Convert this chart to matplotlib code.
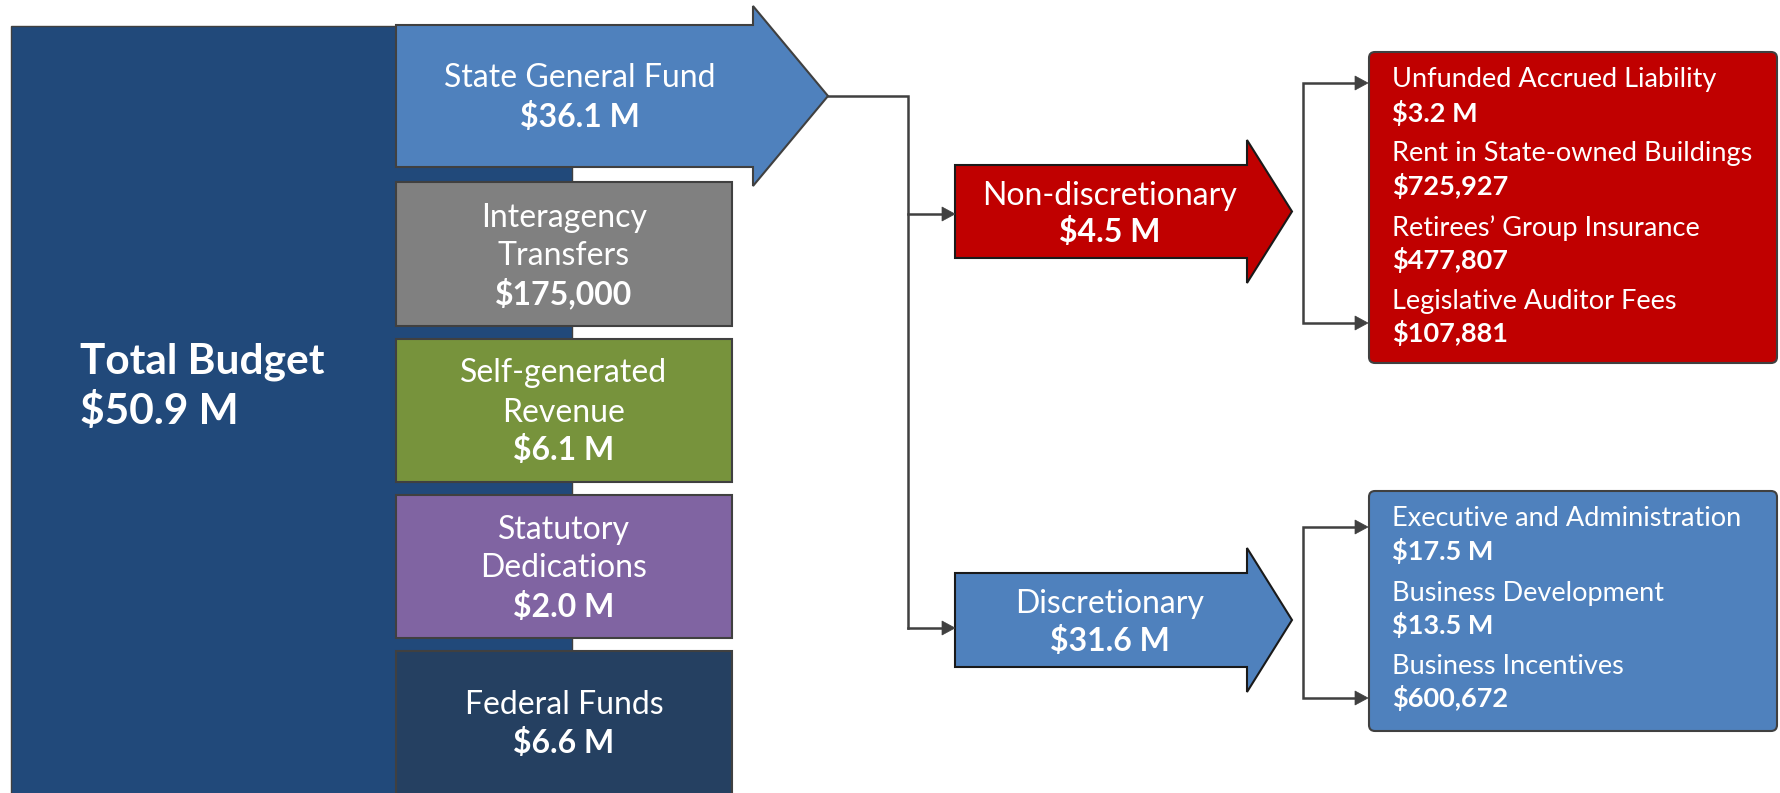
import matplotlib
matplotlib.use("Agg")
import matplotlib.pyplot as plt
from matplotlib.patches import Polygon, Rectangle, FancyBboxPatch

plt.rcParams['font.family'] = ['Lato', 'DejaVu Sans']

# ---- data ----
total_label = "Total Budget"
total_value = "$50.9 M"
sources = ["State General Fund", "Interagency\nTransfers", "Self-generated\nRevenue",
           "Statutory\nDedications", "Federal Funds"]
source_values = ["$36.1 M", "$175,000", "$6.1 M", "$2.0 M", "$6.6 M"]
source_colors = ["#4F81BD", "#808080", "#77933C", "#8064A2", "#254061"]
splits = ["Non-discretionary", "Discretionary"]
split_values = ["$4.5 M", "$31.6 M"]
split_colors = ["#C00000", "#4F81BD"]
nondisc_items = ["Unfunded Accrued Liability", "Rent in State-owned Buildings",
                 "Retirees\u2019 Group Insurance", "Legislative Auditor Fees"]
nondisc_values = ["$3.2 M", "$725,927", "$477,807", "$107,881"]
disc_items = ["Executive and Administration", "Business Development", "Business Incentives"]
disc_values = ["$17.5 M", "$13.5 M", "$600,672"]

W, H = 1781, 793
fig = plt.figure(figsize=(W / 100, H / 100), dpi=100)
ax = fig.add_axes([0, 0, 1, 1])
ax.set_xlim(0, W)
ax.set_ylim(H, 0)
ax.axis('off')

EDGE = "#404040"
FS = 23
FS_BIG = 30.5
FS_SMALL = 19.5

def arrow_shape(x0, xh, tip, top, bot, htop, hbot, color, ec=EDGE, lw=1.5):
    mid = (htop + hbot) / 2
    pts = [(x0, top), (xh, top), (xh, htop), (tip, mid), (xh, hbot), (xh, bot), (x0, bot)]
    ax.add_patch(Polygon(pts, closed=True, facecolor=color, edgecolor=ec, lw=lw, joinstyle='miter', zorder=3))

def arrowhead(x, y, size=13, half=7):
    ax.add_patch(Polygon([(x, y), (x - size, y - half), (x - size, y + half)], closed=True,
                         facecolor=EDGE, edgecolor=EDGE, lw=0.5, zorder=4))

# total budget background
ax.add_patch(Rectangle((11.5, 26), 572 - 11.5, H + 10 - 26, facecolor="#21497A",
                       edgecolor=EDGE, lw=1, zorder=1))
ax.text(80, 362, total_label, color="white", fontsize=FS_BIG, fontweight='bold',
        ha='left', va='center', zorder=5)
ax.text(80, 412, total_value, color="white", fontsize=FS_BIG, fontweight='bold',
        ha='left', va='center', zorder=5)

# State General Fund arrow
arrow_shape(396, 753, 828, 25, 167, 6, 186, source_colors[0])
ax.text(580, 78, sources[0], color="white", fontsize=FS, ha='center', va='center', zorder=5)
ax.text(580, 117, source_values[0], color="white", fontsize=FS, fontweight='bold',
        ha='center', va='center', zorder=5)

# other source boxes
box_y = [(182, 326), (339, 482), (495, 638), (651, H + 10)]
label_ys = [[218, 256, 293], [373, 413, 450], [530, 568, 607], [705, 743]]
for i in range(1, 5):
    y0, y1 = box_y[i - 1]
    ax.add_patch(Rectangle((396, y0), 732 - 396, y1 - y0, facecolor=source_colors[i],
                           edgecolor=EDGE, lw=1.5, zorder=3))
    lines = sources[i].split("\n")
    ys = label_ys[i - 1]
    for ln, yy in zip(lines, ys[:len(lines)]):
        ax.text(564, yy, ln, color="white", fontsize=FS, ha='center', va='center', zorder=5)
    ax.text(564, ys[len(lines)], source_values[i], color="white", fontsize=FS,
            fontweight='bold', ha='center', va='center', zorder=5)

# connector from SGF
ax.plot([828, 908, 908], [96, 96, 628], color=EDGE, lw=1.8, zorder=2, solid_joinstyle='miter')
for y in (214, 628):
    ax.plot([908, 945], [y, y], color=EDGE, lw=1.8, zorder=2)
    arrowhead(955, y)

# split arrows
split_geom = [(165, 258, 140, 283, 196, 232), (573, 667, 548, 692, 604, 641)]
for s, v, c, g in zip(splits, split_values, split_colors, split_geom):
    top, bot, htop, hbot, ty, vy = g
    arrow_shape(955, 1247, 1292, top, bot, htop, hbot, c, ec="#1a1a1a", lw=1.5)
    ax.text(1110, ty, s, color="white", fontsize=FS, ha='center', va='center', zorder=5)
    ax.text(1110, vy, v, color="white", fontsize=FS, fontweight='bold',
            ha='center', va='center', zorder=5)

# brackets
for y0, y1 in ((83, 323), (527, 698)):
    ax.plot([1356, 1303, 1303, 1356], [y0, y0, y1, y1], color=EDGE, lw=1.8, zorder=2,
            solid_joinstyle='miter')
    arrowhead(1368, y0)
    arrowhead(1368, y1)

# detail boxes
def detail_box(y0, y1, color, items, values, ys):
    ax.add_patch(FancyBboxPatch((1369, y0), 1777 - 1369, y1 - y0,
                                boxstyle="round,pad=0,rounding_size=6",
                                facecolor=color, edgecolor=EDGE, lw=1.5, zorder=3))
    for k, (it, va) in enumerate(zip(items, values)):
        ax.text(1392, ys[2 * k], it, color="white", fontsize=FS_SMALL, ha='left', va='center', zorder=5)
        ax.text(1392, ys[2 * k + 1], va, color="white", fontsize=FS_SMALL, fontweight='bold',
                ha='left', va='center', zorder=5)

detail_box(52, 363, split_colors[0], nondisc_items, nondisc_values,
           [80, 113, 154, 186, 228, 260, 302, 333])
detail_box(491, 731, split_colors[1], disc_items, disc_values,
           [519, 551, 593, 625, 667, 698])

fig.savefig("out.png", dpi=100)
